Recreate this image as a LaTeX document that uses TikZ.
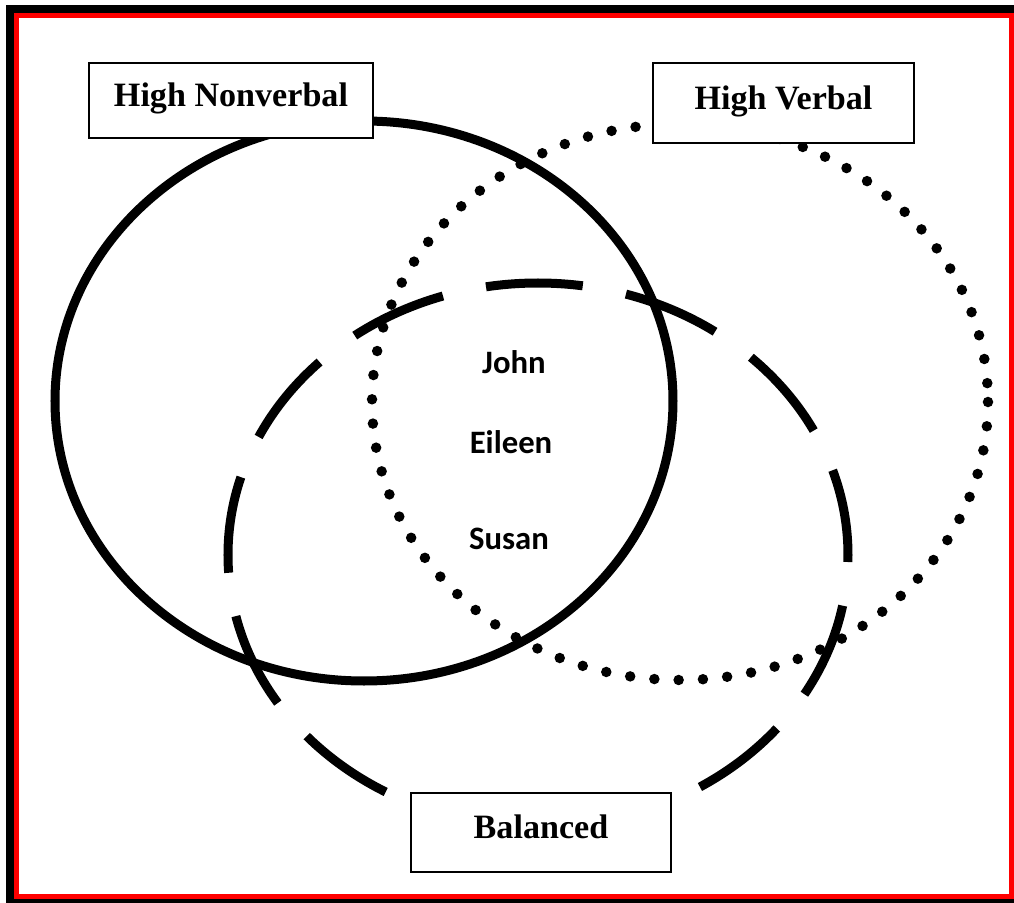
\documentclass[tikz,border=0pt]{standalone}
\usepackage{fontspec}
\setmainfont{Liberation Serif}
\newfontfamily\namefont{Carlito}
\usetikzlibrary{positioning}

\begin{document}
\begin{tikzpicture}[x=0.01cm, y=-0.01cm,
    labelbox/.style={draw, line width=0.5pt, fill=white, inner sep=0pt,
        text height=0.7em, text depth=0.35em,
        font=\fontsize{9.7}{11}\selectfont\bfseries},
    namelabel/.style={font=\namefont\fontsize{9.3}{11}\selectfont\bfseries}]
                \useasboundingbox (0,0) rectangle (1014,903);

                % Frame
                \fill[black] (6,5) rectangle (1014,13);
                \fill[black] (6,5) rectangle (14,903);
                \fill[black] (6,899) rectangle (1014,903);
                \draw[red, line width=0.05cm] (16.5,15.5) rectangle (1011.5,896.5);

                % Nonverbal (solid)
                \draw[line width=0.09cm] (364,401) ellipse [x radius=309, y radius=280];

                % Verbal (dotted)
                \draw[line width=0.105cm, line cap=round, dash pattern=on 0cm off 0.243cm]
                    (680,402) ellipse [x radius=308, y radius=278];

                % Balanced (dashed)
                \draw[line width=0.09cm, dash pattern=on 0.97cm off 0.44cm, dash phase=0.9cm]
                    (538,555) ellipse [x radius=310, y radius=272];

                % Labels
                \node[labelbox, minimum width=2.84cm, minimum height=0.75cm] (nonverbal) at (231,100.5) {High Nonverbal};
                \node[labelbox, minimum width=2.61cm, minimum height=0.80cm] (verbal) at (783.5,103) {High Verbal};
                \node[labelbox, minimum width=2.60cm, minimum height=0.79cm] (balanced) at (541,832.5) {Balanced};

                % Names in the middle
                \node[namelabel] (john) at (514,362) {John};
                \node[namelabel] (eileen) at (511,442) {Eileen};
                \node[namelabel] (susan) at (509,539) {Susan};
\end{tikzpicture}
\end{document}
